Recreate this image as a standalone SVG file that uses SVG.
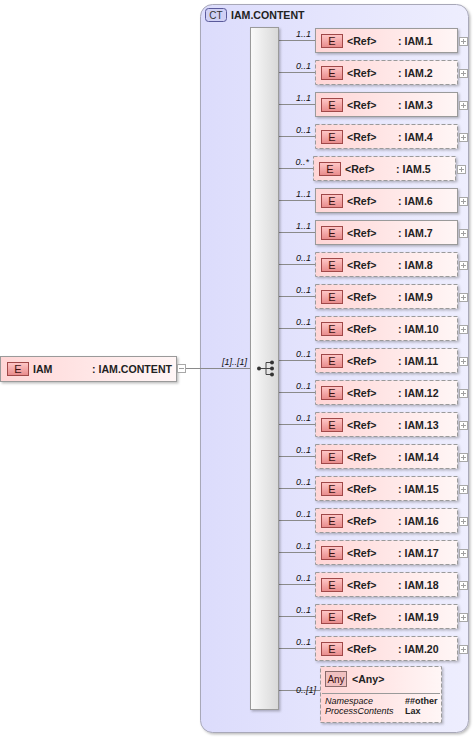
<svg xmlns="http://www.w3.org/2000/svg" width="476" height="737" viewBox="0 0 476 737">
<defs>
<linearGradient id="ctg" x1="0" y1="0" x2="1" y2="0"><stop offset="0" stop-color="#dcdcfc"/><stop offset="1" stop-color="#eeeefe"/></linearGradient>
<linearGradient id="eg" x1="0" y1="0" x2="1" y2="0"><stop offset="0" stop-color="#ffd6d6"/><stop offset="1" stop-color="#fff6f6"/></linearGradient>
<linearGradient id="bg" x1="0" y1="0" x2="0" y2="1"><stop offset="0" stop-color="#ffc8c8"/><stop offset="1" stop-color="#e88a8a"/></linearGradient>
<linearGradient id="sg" x1="0" y1="0" x2="1" y2="0"><stop offset="0" stop-color="#fafafa"/><stop offset="1" stop-color="#d8d8d8"/></linearGradient>
<filter id="sh" x="-10%" y="-10%" width="130%" height="140%"><feDropShadow dx="1.5" dy="1.5" stdDeviation="1" flood-color="#000" flood-opacity="0.25"/></filter>
</defs>
<style>
text{font-family:"Liberation Sans",Arial,sans-serif;fill:#222}
.b{font-weight:bold;font-size:10.6px}
.c{font-style:italic;font-size:9px;fill:#111}
.s{font-size:9px;font-weight:bold}
.el{fill:url(#eg);stroke:#9a9a9a;stroke-width:1;filter:url(#sh)}
.opt{stroke-dasharray:4,2}
.badge{fill:url(#bg);stroke:#a04848;stroke-width:1}
.bt{font-size:11px;fill:#3a1010}
.ln{stroke:#8a8a8a;stroke-width:1;fill:none}
.tg{fill:#fff;stroke:#a8a8a8;stroke-width:1}
.tl{stroke:#a0a0a0;stroke-width:1}
</style>

<g id="ct">
<rect x="200.5" y="4.5" width="268" height="728" rx="12" fill="url(#ctg)" stroke="#a8a8b8" filter="url(#sh)"/>
<rect x="205.5" y="8.5" width="21" height="13" rx="3" fill="#d0d0f4" stroke="#5a5a9a"/>
<text x="216" y="18.5" text-anchor="middle" style="font-size:10px;fill:#333">CT</text>
<text x="231" y="18.5" class="b">IAM.CONTENT</text>
</g>

<g id="conn">
<line class="ln" x1="185" y1="368.5" x2="250" y2="368.5"/>
<text x="247" y="365" class="c" text-anchor="end">[1]..[1]</text>
<line class="ln" x1="279" y1="40.5" x2="315" y2="40.5"/>
<line class="ln" x1="279" y1="72.5" x2="315" y2="72.5"/>
<line class="ln" x1="279" y1="104.5" x2="315" y2="104.5"/>
<line class="ln" x1="279" y1="136.5" x2="315" y2="136.5"/>
<line class="ln" x1="279" y1="168.5" x2="313" y2="168.5"/>
<line class="ln" x1="279" y1="200.5" x2="315" y2="200.5"/>
<line class="ln" x1="279" y1="232.5" x2="315" y2="232.5"/>
<line class="ln" x1="279" y1="264.5" x2="315" y2="264.5"/>
<line class="ln" x1="279" y1="296.5" x2="315" y2="296.5"/>
<line class="ln" x1="279" y1="328.5" x2="315" y2="328.5"/>
<line class="ln" x1="279" y1="360.5" x2="315" y2="360.5"/>
<line class="ln" x1="279" y1="392.5" x2="315" y2="392.5"/>
<line class="ln" x1="279" y1="424.5" x2="315" y2="424.5"/>
<line class="ln" x1="279" y1="456.5" x2="315" y2="456.5"/>
<line class="ln" x1="279" y1="488.5" x2="315" y2="488.5"/>
<line class="ln" x1="279" y1="520.5" x2="315" y2="520.5"/>
<line class="ln" x1="279" y1="552.5" x2="315" y2="552.5"/>
<line class="ln" x1="279" y1="584.5" x2="315" y2="584.5"/>
<line class="ln" x1="279" y1="616.5" x2="315" y2="616.5"/>
<line class="ln" x1="279" y1="648.5" x2="315" y2="648.5"/>
<line class="ln" x1="279" y1="690.5" x2="320" y2="690.5"/>
<text x="311" y="37" class="c" text-anchor="end">1..1</text>
<text x="311" y="69" class="c" text-anchor="end">0..1</text>
<text x="311" y="101" class="c" text-anchor="end">1..1</text>
<text x="311" y="133" class="c" text-anchor="end">0..1</text>
<text x="309" y="165" class="c" text-anchor="end">0..*</text>
<text x="311" y="197" class="c" text-anchor="end">1..1</text>
<text x="311" y="229" class="c" text-anchor="end">1..1</text>
<text x="311" y="261" class="c" text-anchor="end">0..1</text>
<text x="311" y="293" class="c" text-anchor="end">0..1</text>
<text x="311" y="325" class="c" text-anchor="end">0..1</text>
<text x="311" y="357" class="c" text-anchor="end">0..1</text>
<text x="311" y="389" class="c" text-anchor="end">0..1</text>
<text x="311" y="421" class="c" text-anchor="end">0..1</text>
<text x="311" y="453" class="c" text-anchor="end">0..1</text>
<text x="311" y="485" class="c" text-anchor="end">0..1</text>
<text x="311" y="517" class="c" text-anchor="end">0..1</text>
<text x="311" y="549" class="c" text-anchor="end">0..1</text>
<text x="311" y="581" class="c" text-anchor="end">0..1</text>
<text x="311" y="613" class="c" text-anchor="end">0..1</text>
<text x="311" y="645" class="c" text-anchor="end">0..1</text>
<text x="316" y="693" class="c" text-anchor="end">0..[1]</text>
</g>

<g id="seq">
<rect x="250.5" y="27.5" width="28" height="682" fill="url(#sg)" stroke="#9a9a9a" filter="url(#sh)"/>
<line x1="259" y1="368.5" x2="266" y2="368.5" stroke="#444"/>
<line x1="266" y1="362.5" x2="266" y2="374.5" stroke="#444"/>
<line x1="266" y1="362.5" x2="271" y2="362.5" stroke="#444"/>
<line x1="266" y1="374.5" x2="271" y2="374.5" stroke="#444"/>
<line x1="266" y1="368.5" x2="271" y2="368.5" stroke="#444"/>
<circle cx="259" cy="368.5" r="2" fill="#333"/>
<circle cx="272" cy="362.5" r="2" fill="#333"/>
<circle cx="272" cy="368.5" r="2" fill="#333"/>
<circle cx="272" cy="374.5" r="2" fill="#333"/>
</g>

<g id="iam">
<rect class="el" x="0.5" y="356.5" width="176" height="25"/>
<rect class="badge" x="7.5" y="362.5" width="21" height="13"/>
<text x="18" y="372.5" class="bt" text-anchor="middle">E</text>
<text x="33" y="372.5" class="b">IAM</text>
<text x="92" y="372.5" class="b">: IAM.CONTENT</text>
<rect class="tg" x="177.5" y="364.5" width="8" height="8"/>
<line class="tl" x1="179" y1="368.5" x2="184" y2="368.5"/>
</g>

<g id="r1"><rect class="el" x="315.5" y="28.5" width="142" height="24"/><rect class="badge" x="321.5" y="34.5" width="21" height="13"/><text x="332" y="44.5" class="bt" text-anchor="middle">E</text><text x="347" y="44.5" class="b">&lt;Ref&gt;</text><text x="398" y="44.5" class="b">: IAM.1</text><rect class="tg" x="459.5" y="37.5" width="8" height="8"/><line class="tl" x1="461" y1="41.5" x2="466" y2="41.5"/><line class="tl" x1="463.5" y1="39" x2="463.5" y2="44"/></g>
<g id="r2"><rect class="el opt" x="315.5" y="60.5" width="142" height="24"/><rect class="badge" x="321.5" y="66.5" width="21" height="13"/><text x="332" y="76.5" class="bt" text-anchor="middle">E</text><text x="347" y="76.5" class="b">&lt;Ref&gt;</text><text x="398" y="76.5" class="b">: IAM.2</text><rect class="tg" x="459.5" y="69.5" width="8" height="8"/><line class="tl" x1="461" y1="73.5" x2="466" y2="73.5"/><line class="tl" x1="463.5" y1="71" x2="463.5" y2="76"/></g>
<g id="r3"><rect class="el" x="315.5" y="92.5" width="142" height="24"/><rect class="badge" x="321.5" y="98.5" width="21" height="13"/><text x="332" y="108.5" class="bt" text-anchor="middle">E</text><text x="347" y="108.5" class="b">&lt;Ref&gt;</text><text x="398" y="108.5" class="b">: IAM.3</text><rect class="tg" x="459.5" y="101.5" width="8" height="8"/><line class="tl" x1="461" y1="105.5" x2="466" y2="105.5"/><line class="tl" x1="463.5" y1="103" x2="463.5" y2="108"/></g>
<g id="r4"><rect class="el opt" x="315.5" y="124.5" width="142" height="24"/><rect class="badge" x="321.5" y="130.5" width="21" height="13"/><text x="332" y="140.5" class="bt" text-anchor="middle">E</text><text x="347" y="140.5" class="b">&lt;Ref&gt;</text><text x="398" y="140.5" class="b">: IAM.4</text><rect class="tg" x="459.5" y="133.5" width="8" height="8"/><line class="tl" x1="461" y1="137.5" x2="466" y2="137.5"/><line class="tl" x1="463.5" y1="135" x2="463.5" y2="140"/></g>
<g id="r5"><rect class="el opt" x="313.5" y="156.5" width="142" height="24"/><rect class="badge" x="319.5" y="162.5" width="21" height="13"/><text x="330" y="172.5" class="bt" text-anchor="middle">E</text><text x="345" y="172.5" class="b">&lt;Ref&gt;</text><text x="396" y="172.5" class="b">: IAM.5</text><rect class="tg" x="457.5" y="165.5" width="8" height="8"/><line class="tl" x1="459" y1="169.5" x2="464" y2="169.5"/><line class="tl" x1="461.5" y1="167" x2="461.5" y2="172"/></g>
<g id="r6"><rect class="el" x="315.5" y="188.5" width="142" height="24"/><rect class="badge" x="321.5" y="194.5" width="21" height="13"/><text x="332" y="204.5" class="bt" text-anchor="middle">E</text><text x="347" y="204.5" class="b">&lt;Ref&gt;</text><text x="398" y="204.5" class="b">: IAM.6</text><rect class="tg" x="459.5" y="197.5" width="8" height="8"/><line class="tl" x1="461" y1="201.5" x2="466" y2="201.5"/><line class="tl" x1="463.5" y1="199" x2="463.5" y2="204"/></g>
<g id="r7"><rect class="el" x="315.5" y="220.5" width="142" height="24"/><rect class="badge" x="321.5" y="226.5" width="21" height="13"/><text x="332" y="236.5" class="bt" text-anchor="middle">E</text><text x="347" y="236.5" class="b">&lt;Ref&gt;</text><text x="398" y="236.5" class="b">: IAM.7</text><rect class="tg" x="459.5" y="229.5" width="8" height="8"/><line class="tl" x1="461" y1="233.5" x2="466" y2="233.5"/><line class="tl" x1="463.5" y1="231" x2="463.5" y2="236"/></g>
<g id="r8"><rect class="el opt" x="315.5" y="252.5" width="142" height="24"/><rect class="badge" x="321.5" y="258.5" width="21" height="13"/><text x="332" y="268.5" class="bt" text-anchor="middle">E</text><text x="347" y="268.5" class="b">&lt;Ref&gt;</text><text x="398" y="268.5" class="b">: IAM.8</text><rect class="tg" x="459.5" y="261.5" width="8" height="8"/><line class="tl" x1="461" y1="265.5" x2="466" y2="265.5"/><line class="tl" x1="463.5" y1="263" x2="463.5" y2="268"/></g>
<g id="r9"><rect class="el opt" x="315.5" y="284.5" width="142" height="24"/><rect class="badge" x="321.5" y="290.5" width="21" height="13"/><text x="332" y="300.5" class="bt" text-anchor="middle">E</text><text x="347" y="300.5" class="b">&lt;Ref&gt;</text><text x="398" y="300.5" class="b">: IAM.9</text><rect class="tg" x="459.5" y="293.5" width="8" height="8"/><line class="tl" x1="461" y1="297.5" x2="466" y2="297.5"/><line class="tl" x1="463.5" y1="295" x2="463.5" y2="300"/></g>
<g id="r10"><rect class="el opt" x="315.5" y="316.5" width="142" height="24"/><rect class="badge" x="321.5" y="322.5" width="21" height="13"/><text x="332" y="332.5" class="bt" text-anchor="middle">E</text><text x="347" y="332.5" class="b">&lt;Ref&gt;</text><text x="398" y="332.5" class="b">: IAM.10</text><rect class="tg" x="459.5" y="325.5" width="8" height="8"/><line class="tl" x1="461" y1="329.5" x2="466" y2="329.5"/><line class="tl" x1="463.5" y1="327" x2="463.5" y2="332"/></g>
<g id="r11"><rect class="el opt" x="315.5" y="348.5" width="142" height="24"/><rect class="badge" x="321.5" y="354.5" width="21" height="13"/><text x="332" y="364.5" class="bt" text-anchor="middle">E</text><text x="347" y="364.5" class="b">&lt;Ref&gt;</text><text x="398" y="364.5" class="b">: IAM.11</text><rect class="tg" x="459.5" y="357.5" width="8" height="8"/><line class="tl" x1="461" y1="361.5" x2="466" y2="361.5"/><line class="tl" x1="463.5" y1="359" x2="463.5" y2="364"/></g>
<g id="r12"><rect class="el opt" x="315.5" y="380.5" width="142" height="24"/><rect class="badge" x="321.5" y="386.5" width="21" height="13"/><text x="332" y="396.5" class="bt" text-anchor="middle">E</text><text x="347" y="396.5" class="b">&lt;Ref&gt;</text><text x="398" y="396.5" class="b">: IAM.12</text><rect class="tg" x="459.5" y="389.5" width="8" height="8"/><line class="tl" x1="461" y1="393.5" x2="466" y2="393.5"/><line class="tl" x1="463.5" y1="391" x2="463.5" y2="396"/></g>
<g id="r13"><rect class="el opt" x="315.5" y="412.5" width="142" height="24"/><rect class="badge" x="321.5" y="418.5" width="21" height="13"/><text x="332" y="428.5" class="bt" text-anchor="middle">E</text><text x="347" y="428.5" class="b">&lt;Ref&gt;</text><text x="398" y="428.5" class="b">: IAM.13</text><rect class="tg" x="459.5" y="421.5" width="8" height="8"/><line class="tl" x1="461" y1="425.5" x2="466" y2="425.5"/><line class="tl" x1="463.5" y1="423" x2="463.5" y2="428"/></g>
<g id="r14"><rect class="el opt" x="315.5" y="444.5" width="142" height="24"/><rect class="badge" x="321.5" y="450.5" width="21" height="13"/><text x="332" y="460.5" class="bt" text-anchor="middle">E</text><text x="347" y="460.5" class="b">&lt;Ref&gt;</text><text x="398" y="460.5" class="b">: IAM.14</text><rect class="tg" x="459.5" y="453.5" width="8" height="8"/><line class="tl" x1="461" y1="457.5" x2="466" y2="457.5"/><line class="tl" x1="463.5" y1="455" x2="463.5" y2="460"/></g>
<g id="r15"><rect class="el opt" x="315.5" y="476.5" width="142" height="24"/><rect class="badge" x="321.5" y="482.5" width="21" height="13"/><text x="332" y="492.5" class="bt" text-anchor="middle">E</text><text x="347" y="492.5" class="b">&lt;Ref&gt;</text><text x="398" y="492.5" class="b">: IAM.15</text><rect class="tg" x="459.5" y="485.5" width="8" height="8"/><line class="tl" x1="461" y1="489.5" x2="466" y2="489.5"/><line class="tl" x1="463.5" y1="487" x2="463.5" y2="492"/></g>
<g id="r16"><rect class="el opt" x="315.5" y="508.5" width="142" height="24"/><rect class="badge" x="321.5" y="514.5" width="21" height="13"/><text x="332" y="524.5" class="bt" text-anchor="middle">E</text><text x="347" y="524.5" class="b">&lt;Ref&gt;</text><text x="398" y="524.5" class="b">: IAM.16</text><rect class="tg" x="459.5" y="517.5" width="8" height="8"/><line class="tl" x1="461" y1="521.5" x2="466" y2="521.5"/><line class="tl" x1="463.5" y1="519" x2="463.5" y2="524"/></g>
<g id="r17"><rect class="el opt" x="315.5" y="540.5" width="142" height="24"/><rect class="badge" x="321.5" y="546.5" width="21" height="13"/><text x="332" y="556.5" class="bt" text-anchor="middle">E</text><text x="347" y="556.5" class="b">&lt;Ref&gt;</text><text x="398" y="556.5" class="b">: IAM.17</text><rect class="tg" x="459.5" y="549.5" width="8" height="8"/><line class="tl" x1="461" y1="553.5" x2="466" y2="553.5"/><line class="tl" x1="463.5" y1="551" x2="463.5" y2="556"/></g>
<g id="r18"><rect class="el opt" x="315.5" y="572.5" width="142" height="24"/><rect class="badge" x="321.5" y="578.5" width="21" height="13"/><text x="332" y="588.5" class="bt" text-anchor="middle">E</text><text x="347" y="588.5" class="b">&lt;Ref&gt;</text><text x="398" y="588.5" class="b">: IAM.18</text><rect class="tg" x="459.5" y="581.5" width="8" height="8"/><line class="tl" x1="461" y1="585.5" x2="466" y2="585.5"/><line class="tl" x1="463.5" y1="583" x2="463.5" y2="588"/></g>
<g id="r19"><rect class="el opt" x="315.5" y="604.5" width="142" height="24"/><rect class="badge" x="321.5" y="610.5" width="21" height="13"/><text x="332" y="620.5" class="bt" text-anchor="middle">E</text><text x="347" y="620.5" class="b">&lt;Ref&gt;</text><text x="398" y="620.5" class="b">: IAM.19</text><rect class="tg" x="459.5" y="613.5" width="8" height="8"/><line class="tl" x1="461" y1="617.5" x2="466" y2="617.5"/><line class="tl" x1="463.5" y1="615" x2="463.5" y2="620"/></g>
<g id="r20"><rect class="el opt" x="315.5" y="636.5" width="142" height="24"/><rect class="badge" x="321.5" y="642.5" width="21" height="13"/><text x="332" y="652.5" class="bt" text-anchor="middle">E</text><text x="347" y="652.5" class="b">&lt;Ref&gt;</text><text x="398" y="652.5" class="b">: IAM.20</text><rect class="tg" x="459.5" y="645.5" width="8" height="8"/><line class="tl" x1="461" y1="649.5" x2="466" y2="649.5"/><line class="tl" x1="463.5" y1="647" x2="463.5" y2="652"/></g>

<g id="any">
<rect class="el opt" x="320.5" y="666.5" width="121" height="56"/>
<rect x="325.5" y="671.5" width="21" height="15" fill="#f0c0c0" stroke="#8a6a6a"/>
<text x="336" y="682.5" text-anchor="middle" style="font-size:10px;fill:#3a1010">Any</text>
<text x="352" y="682.5" class="b">&lt;Any&gt;</text>
<line x1="322" y1="693.5" x2="440" y2="693.5" stroke="#9a9a9a"/>
<text x="325" y="704" class="c">Namespace</text>
<text x="405" y="704" class="s">##other</text>
<text x="325" y="714" class="c">ProcessContents</text>
<text x="405" y="714" class="s">Lax</text>
</g>
</svg>
